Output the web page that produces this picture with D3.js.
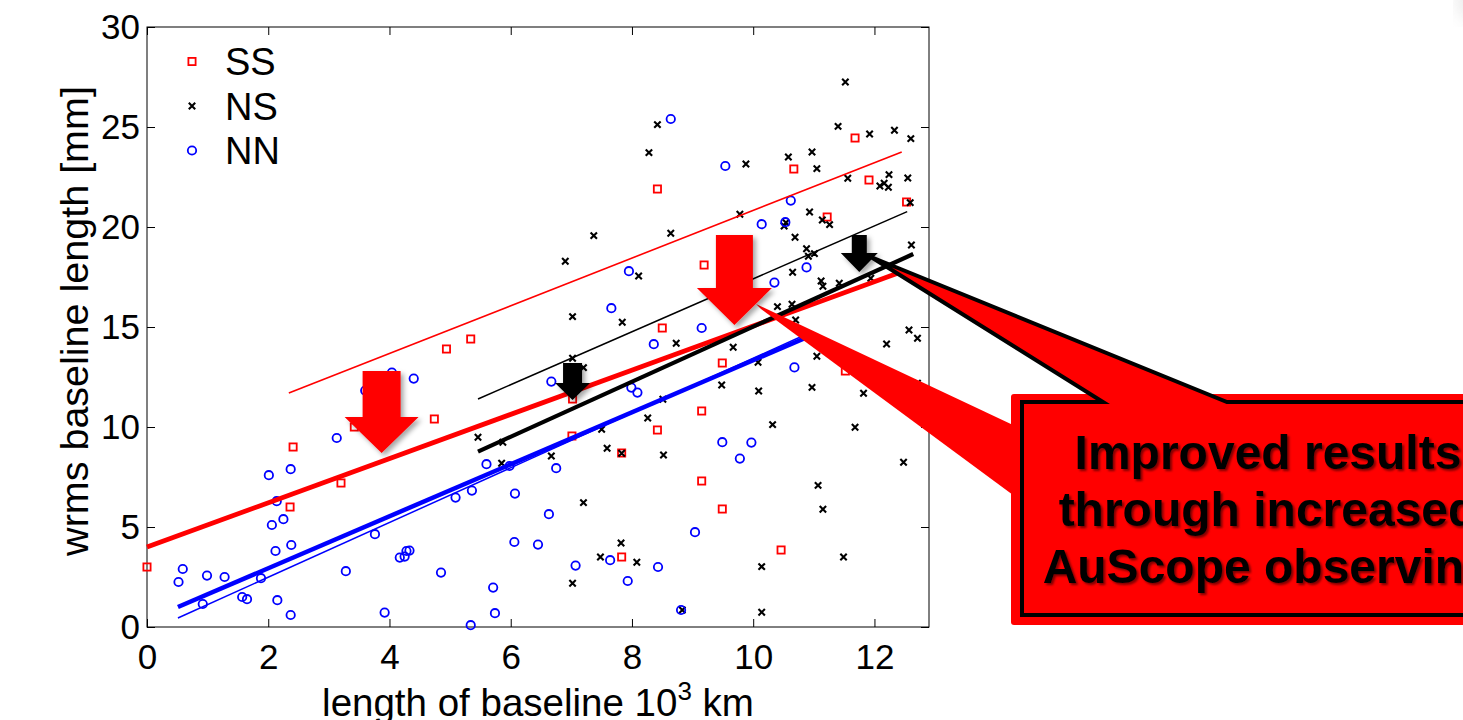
<!DOCTYPE html>
<html>
<head>
<meta charset="utf-8">
<script src="https://cdn.jsdelivr.net/npm/d3@7"></script>
<style>
  body { margin: 0; background: #fff; overflow: hidden; }
  text { font-family: "Liberation Sans", Arial, sans-serif; }
</style>
</head>
<body>
<svg width="1463" height="720"></svg>
<script>
(function (d3) {
  "use strict";

  // baseline length [10^3 km], wrms [mm]
  const ssPoints = [
    [0.0, 3.0], [2.36, 6.0], [2.41, 9.0], [3.2, 7.2], [3.42, 10.0], [4.74, 10.4],
    [4.94, 13.9], [5.34, 14.4], [7.01, 9.55], [7.02, 11.4], [7.83, 3.5], [7.83, 8.7],
    [8.42, 9.85], [8.5, 14.95], [8.42, 21.9], [9.15, 10.8], [9.15, 7.3], [9.19, 18.1],
    [9.49, 13.2], [9.49, 5.9], [10.46, 3.85], [10.67, 22.9], [11.22, 20.5], [11.52, 12.8],
    [11.68, 24.45], [11.91, 22.35], [12.53, 21.25]
  ];
  const nsPoints = [
    [5.46, 9.49], [5.85, 8.19], [5.87, 9.24], [6.67, 8.55], [6.9, 18.29], [7.02, 15.52],
    [7.02, 13.44], [7.02, 2.19], [7.2, 12.97], [7.2, 6.22], [7.37, 19.57], [7.48, 3.5],
    [7.5, 9.89], [7.59, 8.94], [7.82, 4.2], [7.83, 8.69], [7.84, 15.24], [8.08, 3.24],
    [8.11, 17.55], [8.26, 10.45], [8.28, 23.72], [8.42, 25.12], [8.51, 11.39], [8.52, 8.6],
    [8.64, 19.69], [8.73, 14.19], [8.83, 0.85], [9.48, 12.1], [9.67, 13.99], [9.78, 20.64],
    [9.88, 23.15], [10.08, 13.24], [10.09, 11.8], [10.14, 3.02], [10.14, 0.74], [10.32, 10.12],
    [10.4, 16.02], [10.51, 20.05], [10.54, 20.22], [10.58, 23.5], [10.64, 16.14], [10.65, 17.74],
    [10.69, 19.49], [10.7, 15.35], [10.88, 18.91], [10.91, 18.54], [10.93, 20.75], [10.97, 23.75],
    [10.97, 11.98], [11.01, 18.67], [11.05, 22.92], [11.05, 13.54], [11.07, 7.08], [11.12, 17.3],
    [11.14, 20.35], [11.15, 5.89], [11.15, 17.04], [11.26, 20.12], [11.4, 25.03], [11.42, 17.19],
    [11.49, 3.5], [11.52, 27.25], [11.56, 22.44], [11.68, 9.99], [11.82, 11.69], [11.92, 24.65],
    [11.94, 17.44], [12.09, 22.05], [12.16, 22.19], [12.2, 14.15], [12.23, 21.99], [12.24, 22.62],
    [12.33, 24.84], [12.48, 8.24], [12.55, 22.45], [12.57, 14.85], [12.59, 21.22], [12.6, 24.42],
    [12.61, 19.1], [12.71, 14.44], [12.71, 12.19]
  ];
  const nnPoints = [
    [0.52, 2.25], [0.59, 2.9], [0.92, 1.15], [0.99, 2.57], [1.28, 2.5], [1.57, 1.5],
    [1.65, 1.39], [1.88, 2.44], [2.01, 7.59], [2.06, 5.1], [2.12, 3.8], [2.14, 6.29],
    [2.15, 1.34], [2.25, 5.39], [2.37, 7.89], [2.38, 4.1], [2.37, 0.6], [3.13, 9.45],
    [3.28, 2.79], [3.6, 11.82], [3.76, 4.64], [3.92, 0.72], [4.04, 12.72], [4.17, 3.47],
    [4.25, 3.52], [4.28, 3.8], [4.33, 3.82], [4.4, 12.42], [4.85, 2.72], [5.09, 6.47],
    [5.34, 0.09], [5.36, 6.82], [5.6, 8.14], [5.71, 1.97], [5.74, 0.69], [5.98, 8.05],
    [6.06, 4.25], [6.07, 6.67], [6.45, 4.12], [6.63, 5.64], [6.67, 12.27], [6.75, 7.94],
    [7.07, 3.07], [7.64, 3.34], [7.66, 15.94], [7.93, 2.3], [7.95, 17.79], [7.99, 11.97],
    [8.09, 11.72], [8.36, 14.14], [8.43, 3.0], [8.64, 25.4], [8.81, 0.85], [9.04, 4.74],
    [9.15, 14.95], [9.49, 9.24], [9.54, 23.05], [9.78, 8.42], [9.97, 9.22], [10.14, 20.14],
    [10.35, 17.22], [10.53, 20.24], [10.62, 21.32], [10.68, 12.98], [10.88, 17.98]
  ];

  // fitted trend lines, before (thin) and after (thick)
  const ssFitThin = [[2.34, 11.7], [12.45, 23.75]];
  const ssFitThick = [[0.0, 4.0], [12.46, 17.77]];
  const nsFitThin = [[5.46, 11.4], [12.54, 20.77]];
  const nsFitThick = [[5.46, 8.77], [12.64, 18.65]];
  const nnFitThin = [[0.51, 0.45], [10.85, 14.6]];
  const nnFitThick = [[0.51, 1.0], [10.85, 14.44]];

  const xTicks = [0, 2, 4, 6, 8, 10, 12];
  const yTicks = [0, 5, 10, 15, 20, 25, 30];
  const legendNames = ["SS", "NS", "NN"];
  const calloutLines = ["Improved results", "through increased", "AuScope observing"];

  const svg = d3.select("svg");
  const defs = svg.append("defs");
  defs.append("filter").attr("id", "arrowShadow")
    .attr("x", "-30%").attr("y", "-30%").attr("width", "160%").attr("height", "160%")
    .append("feDropShadow")
    .attr("dx", 3).attr("dy", 3).attr("stdDeviation", 2.5)
    .attr("flood-color", "#000").attr("flood-opacity", 0.35);
  defs.append("filter").attr("id", "textShadow")
    .append("feDropShadow")
    .attr("dx", 2).attr("dy", 2).attr("stdDeviation", 1)
    .attr("flood-color", "#400").attr("flood-opacity", 0.7);
  defs.append("filter").attr("id", "blurCorner")
    .append("feGaussianBlur").attr("stdDeviation", 9);

  // faint corner remnant at top right
  svg.append("circle").attr("cx", 1480).attr("cy", 0).attr("r", 22)
    .attr("fill", "#bbb").attr("opacity", 0.35).attr("filter", "url(#blurCorner)");

  const left = 147, right = 929, top = 27, bottom = 627;
  const x = d3.scaleLinear().domain([0, 12.9]).range([left, right]);
  const y = d3.scaleLinear().domain([0, 30]).range([bottom, top]);

  const styleAxis = (g) => {
    g.select(".domain").remove();
    g.selectAll(".tick line").attr("stroke", "#000").attr("stroke-width", 1);
    g.selectAll(".tick text").attr("fill", "#000").attr("font-size", 35)
      .attr("font-family", "Liberation Sans, Arial, sans-serif");
  };

  svg.append("g").attr("transform", `translate(0,${bottom})`)
    .call(d3.axisBottom(x).tickValues(xTicks).tickSizeInner(-8).tickSizeOuter(0).tickPadding(17))
    .call(styleAxis);
  svg.append("g").attr("transform", `translate(${left},0)`)
    .call(d3.axisLeft(y).tickValues(yTicks).tickSizeInner(-8).tickSizeOuter(0).tickPadding(7))
    .call(styleAxis);
  svg.append("g").attr("transform", `translate(0,${top})`)
    .call(d3.axisTop(x).tickValues(xTicks).tickSizeInner(-8).tickSizeOuter(0).tickFormat(""))
    .call(styleAxis);
  svg.append("g").attr("transform", `translate(${right},0)`)
    .call(d3.axisRight(y).tickValues(yTicks).tickSizeInner(-8).tickSizeOuter(0).tickFormat(""))
    .call(styleAxis);

  svg.append("rect")
    .attr("x", left).attr("y", top).attr("width", right - left).attr("height", bottom - top)
    .attr("fill", "none").attr("stroke", "#000").attr("stroke-width", 1);

  // axis titles
  svg.append("text")
    .attr("transform", `translate(88,${(top + bottom) / 2 - 6}) rotate(-90)`)
    .attr("text-anchor", "middle").attr("font-size", 39.5)
    .text("wrms baseline length [mm]");

  const xLabel = svg.append("text")
    .attr("x", (left + right) / 2).attr("y", 716)
    .attr("text-anchor", "middle").attr("font-size", 38.5);
  xLabel.append("tspan").text("length of baseline 10");
  xLabel.append("tspan").attr("font-size", 26).attr("dy", -16).text("3");
  xLabel.append("tspan").attr("dy", 16).text(" km");

  // markers
  const drawMarker = (sel, type) => {
    if (type === "SS") {
      sel.append("rect").attr("x", -3.6).attr("y", -3.6).attr("width", 7.2).attr("height", 7.2)
        .attr("fill", "none").attr("stroke", "#f00").attr("stroke-width", 1.8);
    } else if (type === "NS") {
      sel.append("path").attr("d", "M-3.2,-3.2L3.2,3.2M-3.2,3.2L3.2,-3.2")
        .attr("stroke", "#000").attr("stroke-width", 2.1);
    } else {
      sel.append("circle").attr("r", 4.2)
        .attr("fill", "none").attr("stroke", "#00f").attr("stroke-width", 1.8);
    }
  };

  const series = [
    { name: "SS", points: ssPoints },
    { name: "NS", points: nsPoints },
    { name: "NN", points: nnPoints },
  ];

  const pointsG = svg.append("g");
  series.forEach((s) => {
    pointsG.selectAll(null).data(s.points).enter().append("g")
      .attr("transform", (d) => `translate(${x(d[0])},${y(d[1])})`)
      .each(function () { drawMarker(d3.select(this), s.name); });
  });

  // trend lines
  const line = d3.line().x((d) => x(d[0])).y((d) => y(d[1]));
  const fits = [
    { data: nnFitThin, color: "#00f", w: 1.5 },
    { data: nnFitThick, color: "#00f", w: 4.5 },
    { data: ssFitThin, color: "#f00", w: 1.6 },
    { data: ssFitThick, color: "#f00", w: 4.8 },
    { data: nsFitThin, color: "#000", w: 1.5 },
    { data: nsFitThick, color: "#000", w: 4.2 },
  ];
  svg.append("g").selectAll("path").data(fits).enter().append("path")
    .attr("d", (d) => line(d.data))
    .attr("fill", "none")
    .attr("stroke", (d) => d.color)
    .attr("stroke-width", (d) => d.w);

  // legend
  const legendG = svg.append("g");
  legendNames.forEach((name, i) => {
    const g = legendG.append("g").attr("transform", `translate(192,${61.5 + i * 44.5})`);
    drawMarker(g, name);
    g.append("text").attr("x", 33).attr("y", 13.5).attr("font-size", 38).text(name);
  });

  // down arrows: tip in data units, sizes in px
  const arrows = [
    { tip: [3.87, 8.7], color: "#f00", shaft: 19, head: 37, headLen: 36, len: 82 },
    { tip: [9.69, 15.1], color: "#f00", shaft: 18.5, head: 37.5, headLen: 37, len: 90 },
    { tip: [7.02, 11.35], color: "#000", shaft: 9.5, head: 17.5, headLen: 17, len: 37 },
    { tip: [11.75, 17.75], color: "#000", shaft: 7.5, head: 18.5, headLen: 19, len: 37 },
  ];
  const arrowPath = (a) => {
    const tx = x(a.tip[0]), ty = y(a.tip[1]);
    const hy = ty - a.headLen, sy = ty - a.len;
    return `M${tx},${ty}L${tx - a.head},${hy}L${tx - a.shaft},${hy}L${tx - a.shaft},${sy}` +
      `L${tx + a.shaft},${sy}L${tx + a.shaft},${hy}L${tx + a.head},${hy}Z`;
  };

  // callout
  const callout = svg.append("g");
  callout.append("polygon")
    .attr("points", "756,304 761,309 1013,495 1013,425")
    .attr("fill", "#f00");
  callout.append("rect")
    .attr("x", 1011).attr("y", 394).attr("width", 480).attr("height", 231).attr("rx", 3)
    .attr("fill", "#f00");
  callout.append("path")
    .attr("d", "M1022,402H1103L871,257L1227,402H1490V615H1022Z")
    .attr("fill", "#f00").attr("stroke", "#000").attr("stroke-width", 4)
    .attr("stroke-linejoin", "miter");
  callout.selectAll("text").data(calloutLines).enter().append("text")
    .attr("x", 1268).attr("y", (d, i) => 469 + i * 57)
    .attr("text-anchor", "middle").attr("font-size", 48).attr("font-weight", "bold")
    .attr("fill", "#000").attr("filter", "url(#textShadow)")
    .text((d) => d);

  svg.append("g").selectAll("path").data(arrows).enter().append("path")
    .attr("d", arrowPath)
    .attr("fill", (d) => d.color)
    .attr("filter", "url(#arrowShadow)");
})(d3);
</script>
</body>
</html>
